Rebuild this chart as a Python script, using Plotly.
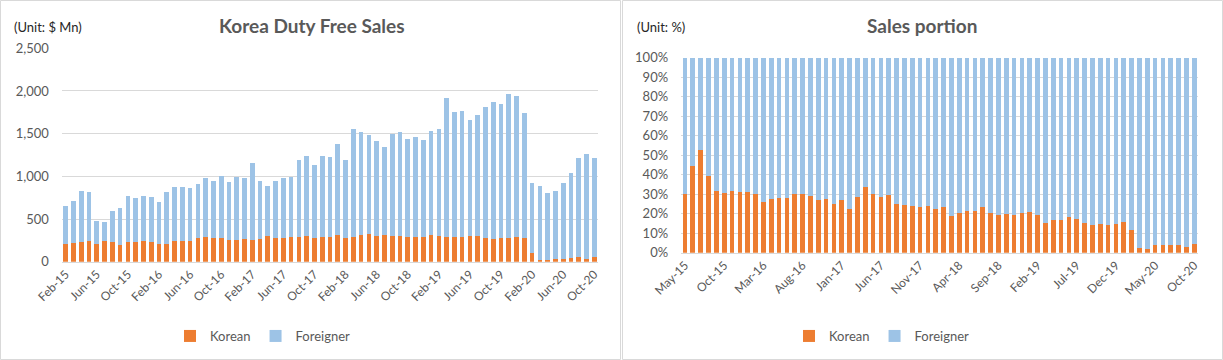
import plotly.graph_objects as go

# ---------------- data ----------------
months_left = ["Feb-15","Mar-15","Apr-15","May-15","Jun-15","Jul-15","Aug-15","Sep-15","Oct-15","Nov-15","Dec-15",
               "Jan-16","Feb-16","Mar-16","Apr-16","May-16","Jun-16","Jul-16","Aug-16","Sep-16","Oct-16","Nov-16","Dec-16",
               "Jan-17","Feb-17","Mar-17","Apr-17","May-17","Jun-17","Jul-17","Aug-17","Sep-17","Oct-17","Nov-17","Dec-17",
               "Jan-18","Feb-18","Mar-18","Apr-18","May-18","Jun-18","Jul-18","Aug-18","Sep-18","Oct-18","Nov-18","Dec-18",
               "Jan-19","Feb-19","Mar-19","Apr-19","May-19","Jun-19","Jul-19","Aug-19","Sep-19","Oct-19","Nov-19","Dec-19",
               "Jan-20","Feb-20","Mar-20","Apr-20","May-20","Jun-20","Jul-20","Aug-20","Sep-20","Oct-20"]

korean_sales = [212, 224, 236, 248, 212, 248, 236, 200, 236, 236, 248,
                236, 212, 212, 248, 248, 248, 272, 295, 283, 275, 260, 250,
                262, 260, 268, 302, 283, 280, 293, 295, 302, 272, 290, 292,
                310, 278, 290, 310, 322, 302, 313, 302, 298, 288, 286, 289,
                315, 301, 290, 292, 293, 303, 299, 277, 266, 275, 278, 287,
                275, 100, 21, 16, 31, 34, 45, 52, 36, 54]

foreigner_sales = [445, 492, 598, 574, 268, 220, 362, 433, 539, 515, 527,
                   527, 492, 610, 633, 633, 621, 644, 680, 668, 724, 668, 737,
                   713, 892, 672, 590, 657, 695, 694, 892, 932, 856, 944, 934,
                   1069, 913, 1265, 1206, 1162, 1112, 1031, 1194, 1218, 1149, 1175, 1137,
                   1216, 1254, 1624, 1462, 1473, 1357, 1420, 1535, 1605, 1573, 1687, 1654,
                   1467, 822, 866, 789, 797, 888, 994, 1163, 1226, 1161]

months_right = months_left[3:]

korean_pct = [29.9, 44.6, 52.7, 39.5, 31.8, 30.8, 31.8, 31.3, 31.3, 30.3,
              26.0, 27.5, 28.2, 28.0, 29.9, 29.9, 29.2, 27.0, 27.5, 25.0,
              27.0, 22.4, 28.6, 33.8, 30.1, 28.6, 29.7, 25.0, 24.5, 23.9,
              23.4, 23.9, 22.4, 23.4, 18.8, 20.3, 21.4, 21.4, 23.4, 20.3,
              19.3, 19.8, 19.3, 20.3, 20.9, 19.3, 15.2, 16.8, 16.8, 18.3,
              17.3, 15.2, 14.2, 14.7, 14.2, 14.7, 15.7, 11.6, 2.6, 2.1,
              3.9, 3.9, 3.9, 3.9, 2.9, 4.4]

foreigner_pct = [70.1, 55.4, 47.3, 60.5, 68.2, 69.2, 68.2, 68.7, 68.7, 69.7,
                 74.0, 72.5, 71.8, 72.0, 70.1, 70.1, 70.8, 73.0, 72.5, 75.0,
                 73.0, 77.6, 71.4, 66.2, 69.9, 71.4, 70.3, 75.0, 75.5, 76.1,
                 76.6, 76.1, 77.6, 76.6, 81.2, 79.7, 78.6, 78.6, 76.6, 79.7,
                 80.7, 80.2, 80.7, 79.7, 79.1, 80.7, 84.8, 83.2, 83.2, 81.7,
                 82.7, 84.8, 85.8, 85.3, 85.8, 85.3, 84.3, 88.4, 97.4, 97.9,
                 96.1, 96.1, 96.1, 96.1, 97.1, 95.6]

ticks_left = months_left[::4]
ticks_right = months_right[::5]

# ---------------- style ----------------
W, H = 1223, 360
ORANGE = "#ED7D31"
BLUE = "#9DC3E6"
GRID = "#D9D9D9"
TXT = "#595959"
FONT = "Lato"

def px_x(v):
    return v / W

def px_y(v):
    return 1 - v / H

fig = go.Figure()

fig.add_trace(go.Bar(x=months_left, y=korean_sales, name="Korean", marker=dict(color=ORANGE, line=dict(width=0)),
                     xaxis="x", yaxis="y", legend="legend"))
fig.add_trace(go.Bar(x=months_left, y=foreigner_sales, name="Foreigner", marker=dict(color=BLUE, line=dict(width=0)),
                     xaxis="x", yaxis="y", legend="legend"))
fig.add_trace(go.Bar(x=months_right, y=korean_pct, name="Korean", marker=dict(color=ORANGE, line=dict(width=0)),
                     xaxis="x2", yaxis="y2", legend="legend2"))
fig.add_trace(go.Bar(x=months_right, y=foreigner_pct, name="Foreigner", marker=dict(color=BLUE, line=dict(width=0)),
                     xaxis="x2", yaxis="y2", legend="legend2"))

axis_common = dict(showgrid=False, zeroline=False, ticks="", tickangle=-45, automargin=False,
                   tickfont=dict(family=FONT, size=12, color=TXT), type="category")

fig.update_layout(
    width=W, height=H,
    margin=dict(l=0, r=0, t=0, b=0, pad=0, autoexpand=False),
    paper_bgcolor="white", plot_bgcolor="white",
    barmode="stack", bargap=0.4,
    font=dict(family=FONT, color=TXT),
    xaxis=dict(domain=[px_x(61.8), px_x(598.2)], anchor="y",
               tickvals=ticks_left, ticktext=ticks_left,
               showline=True, linecolor=GRID, linewidth=1, **axis_common),
    yaxis=dict(domain=[px_y(261.7), px_y(48.3)], anchor="x", range=[0, 2500], dtick=500,
               tickformat=",", showgrid=True, gridcolor=GRID, gridwidth=1, zeroline=False, automargin=False,
               showline=False, ticks="", ticklabelstandoff=12,
               tickfont=dict(family=FONT, size=13, color=TXT)),
    xaxis2=dict(domain=[px_x(681.1), px_x(1198.2)], anchor="y2",
                tickvals=ticks_right, ticktext=ticks_right,
                showline=True, linecolor=GRID, linewidth=1, **axis_common),
    yaxis2=dict(domain=[px_y(252.7), px_y(57.7)], anchor="x2", range=[0, 100], dtick=10,
                ticksuffix="%", showgrid=True, gridcolor=GRID, gridwidth=1, zeroline=False, automargin=False,
                showline=False, ticks="", ticklabelstandoff=12,
                tickfont=dict(family=FONT, size=13, color=TXT)),
    legend=dict(orientation="h", x=px_x(170), y=px_y(321), xanchor="left", yanchor="top",
                font=dict(family=FONT, size=13, color=TXT), bgcolor="rgba(0,0,0,0)",
                traceorder="normal", itemwidth=30),
    legend2=dict(orientation="h", x=px_x(789), y=px_y(321), xanchor="left", yanchor="top",
                 font=dict(family=FONT, size=13, color=TXT), bgcolor="rgba(0,0,0,0)",
                 traceorder="normal", itemwidth=30),
    annotations=[
        dict(text="<b>Korea Duty Free Sales</b>", x=px_x(312), y=px_y(26), xref="paper", yref="paper",
             xanchor="center", yanchor="middle", showarrow=False,
             font=dict(family=FONT, size=19, color=TXT)),
        dict(text="(Unit: $ Mn)", x=px_x(12), y=px_y(27), xref="paper", yref="paper",
             xanchor="left", yanchor="middle", showarrow=False,
             font=dict(family=FONT, size=13, color="#262626")),
        dict(text="<b>Sales portion</b>", x=px_x(922), y=px_y(26), xref="paper", yref="paper",
             xanchor="center", yanchor="middle", showarrow=False,
             font=dict(family=FONT, size=19, color=TXT)),
        dict(text="(Unit: %)", x=px_x(635), y=px_y(27), xref="paper", yref="paper",
             xanchor="left", yanchor="middle", showarrow=False,
             font=dict(family=FONT, size=13, color="#262626")),
    ],
    shapes=[
        dict(type="rect", xref="paper", yref="paper", x0=px_x(0.5), x1=px_x(620.5), y0=px_y(359.5), y1=px_y(0.5),
             line=dict(color=GRID, width=1), fillcolor="rgba(0,0,0,0)", layer="below"),
        dict(type="rect", xref="paper", yref="paper", x0=px_x(622.5), x1=px_x(1222.5), y0=px_y(359.5), y1=px_y(0.5),
             line=dict(color=GRID, width=1), fillcolor="rgba(0,0,0,0)", layer="below"),
    ],
)

fig.write_html("out.html", config={"displayModeBar": False},
               post_script="document.body.style.margin='0';document.body.style.overflow='hidden';")
